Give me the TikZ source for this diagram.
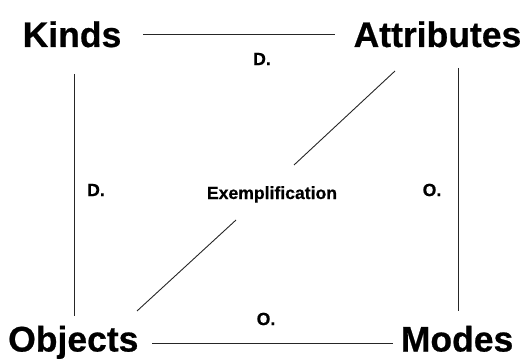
\documentclass[tikz,border=0pt]{standalone}
\usepackage{fontspec}
\setmainfont[BoldFeatures={FakeBold=0.6}]{Liberation Sans}
\begin{document}
\begin{tikzpicture}[x=1pt,y=1pt,
  big/.style={font=\fontsize{35.5}{40}\selectfont\bfseries, inner sep=0pt},
  lbl/.style={font=\fontsize{17.6}{20}\selectfont\bfseries, inner sep=0pt},
  conn/.style={line width=0.9pt, draw=black!85}]
\useasboundingbox (0,0) rectangle (524,359);
% corner terms
\node[big, anchor=base west] (kinds) at (22.5,312) {Kinds};
\node[big, anchor=base east] (attr) at (521.5,312) {Attributes};
\node[big, anchor=base west] (objects) at (8,7.5) {Objects};
\node[big, anchor=base east] (modes) at (513.5,7.5) {Modes};
% connector end points
\coordinate (t1) at (143,325);
\coordinate (t2) at (335,325);
\coordinate (l1) at (74,285);
\coordinate (l2) at (74,43);
\coordinate (r1) at (458,291);
\coordinate (r2) at (458,48);
\coordinate (d1) at (395,288);
\coordinate (d2) at (294,194);
\coordinate (d3) at (236,139);
\coordinate (d4) at (137,48);
\coordinate (b1) at (152,16);
\coordinate (b2) at (393,16);
% connectors
\draw[conn] (t1) -- (t2);
\draw[conn] (l1) -- (l2);
\draw[conn] (r1) -- (r2);
\draw[conn] (d1) -- (d2);
\draw[conn] (d3) -- (d4);
\draw[conn] (b1) -- (b2);
% labels
\node[lbl] (dtop) at (262,300) {D.};
\node[lbl] (dleft) at (96,169) {D.};
\node[lbl] (oright) at (432,169) {O.};
\node[lbl] (obot) at (266,40) {O.};
\node[lbl, anchor=base] (ex) at (272,160) {Exemplification};
\end{tikzpicture}
\end{document}
